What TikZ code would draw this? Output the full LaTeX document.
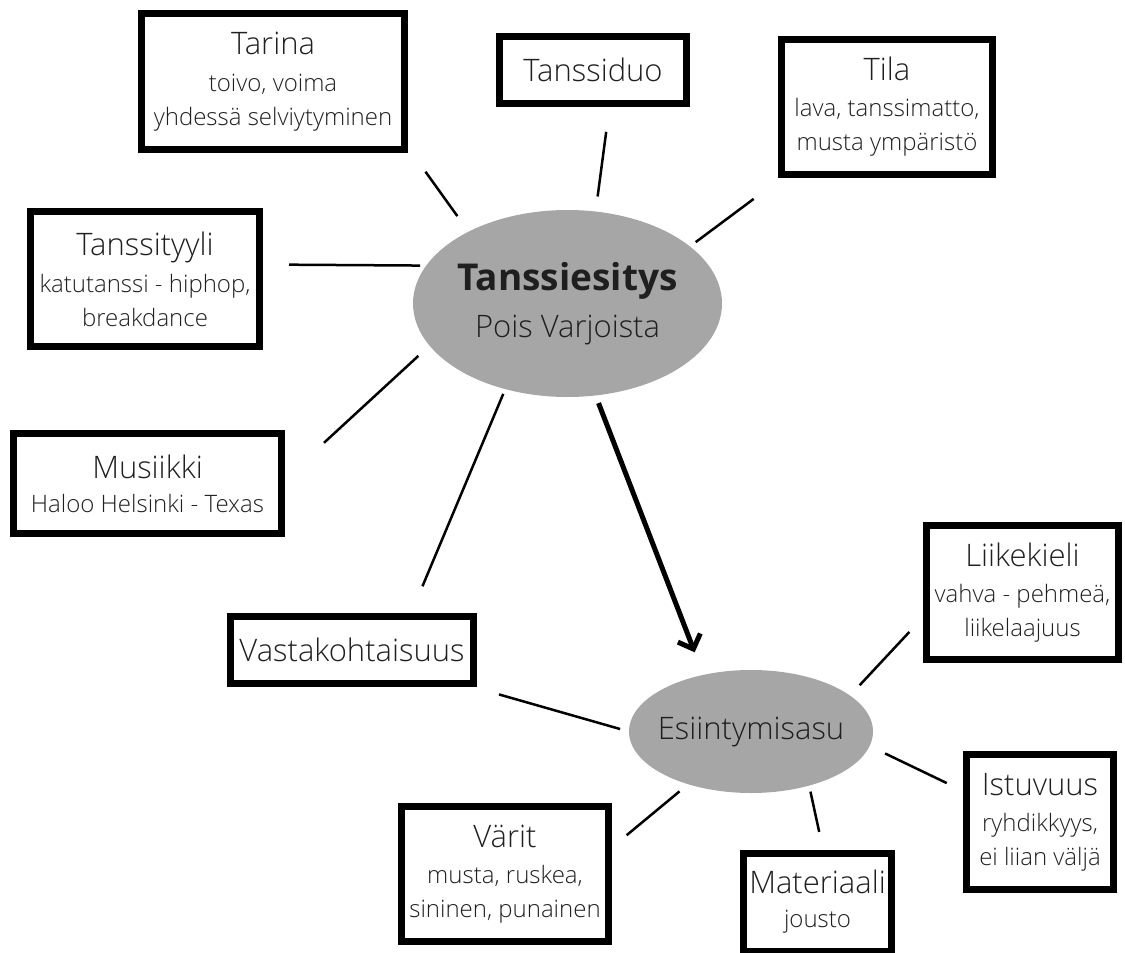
\documentclass[tikz,border=0pt]{standalone}
\usepackage{fontspec}
\setmainfont{Open Sans}[UprightFont=* Light, BoldFont=* Bold]
\usetikzlibrary{arrows.meta,shapes.geometric}
\definecolor{ink}{HTML}{1F1F1F}
\definecolor{blobgray}{HTML}{A6A6A6}
\newcommand{\ttl}[1]{{\fontsize{31}{34}\selectfont #1}}

\begin{document}
\begin{tikzpicture}[x=1pt,y=-1pt,
    topic/.style={draw=black,line width=7pt,align=center,text=ink,inner sep=0pt,
      font=\fontsize{24}{34}\selectfont},
    blob/.style={ellipse,fill=blobgray,inner sep=-30pt,align=center,text=ink},
    link/.style={line width=2.5pt},
    lead/.style={line width=5pt,-{Straight Barb[length=12pt,width=24pt]}}]
    \useasboundingbox (0,0) rectangle (1125,953);
    % keskus
    \node[blob,minimum width=309pt,minimum height=187pt,font=\fontsize{31}{47}\selectfont] (main) at (567.5,303.5)
      {{\fontsize{37}{40}\selectfont\bfseries Tanssiesitys}\\Pois Varjoista};
    \node[blob,minimum width=244pt,minimum height=123pt,font=\fontsize{31}{36}\selectfont] (asu) at (751,731.5) {Esiintymisasu};
    % laatikot
    \node[topic,minimum width=263pt,minimum height=136pt] (tarina) at (273,81.5)
      {\ttl{Tarina}\\[3pt]toivo, voima\\yhdessä selviytyminen};
    \node[topic,minimum width=187pt,minimum height=67pt] (duo) at (593,70) {\ttl{Tanssiduo}};
    \node[topic,minimum width=211pt,minimum height=135pt] (tila) at (887,107)
      {\ttl{Tila}\\[2pt]lava, tanssimatto,\\musta ympäristö};
    \node[topic,minimum width=229pt,minimum height=135pt] (tyyli) at (145,279)
      {\ttl{Tanssityyli}\\[3pt]katutanssi - hiphop,\\breakdance};
    \node[topic,minimum width=268pt,minimum height=100pt] (musiikki) at (147.5,483.5)
      {\ttl{Musiikki}\\Haloo Helsinki - Texas};
    \node[topic,minimum width=243pt,minimum height=67pt] (vasta) at (352,650) {\ttl{Vastakohtaisuus}};
    \node[topic,minimum width=207pt,minimum height=135pt] (varit) at (505,874)
      {\ttl{Värit}\\[2pt]musta, ruskea,\\sininen, punainen};
    \node[topic,minimum width=148pt,minimum height=98pt] (mat) at (817.5,902)
      {\ttl{Materiaali}\\jousto};
    \node[topic,minimum width=192pt,minimum height=134pt] (liike) at (1022.5,592.5)
      {\ttl{Liikekieli}\\[2pt]vahva - pehmeä,\\liikelaajuus};
    \node[topic,minimum width=147pt,minimum height=135pt] (ist) at (1040,822)
      {\ttl{Istuvuus}\\[2pt]ryhdikkyys,\\ei liian väljä};
    % yhteydet
    \foreach \a/\b/\s/\e in {tarina.-26/main.144/30/19, duo.-66/main.73/25/15,
        tila.214/main.25/35/7, tyyli.7/main.165/26/6, musiikki.2/main.197/53/15,
        vasta.32/main.234/29/5, vasta.-17/asu.180/27/9, varit.14/asu.220/19/11,
        mat.84/asu.-43/18/6, ist.158/asu.-7/18/17, liike.194/asu.20/20/14}
      \draw[link,shorten <=\s pt,shorten >=\e pt] (\a) -- (\b);
    \draw[lead,shorten <=8pt,shorten >=24pt] (main.-73) -- (asu.130);
  \end{tikzpicture}
\end{document}
